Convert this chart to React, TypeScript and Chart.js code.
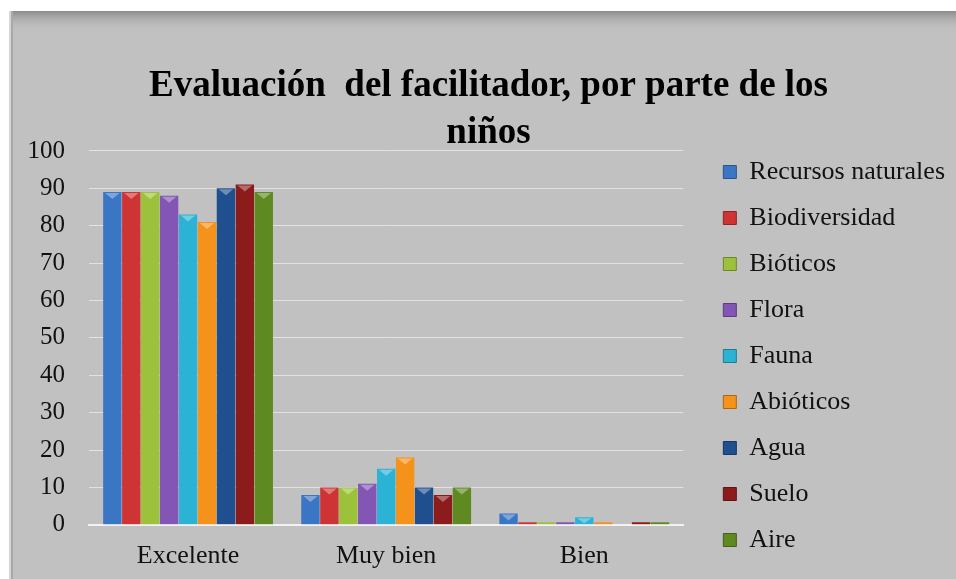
import React, { useEffect, useRef } from "react";
import { Chart, registerables } from "chart.js";

Chart.register(...registerables);

const categories = ["Excelente", "Muy bien", "Bien"];
const seriesNames = [
  "Recursos naturales",
  "Biodiversidad",
  "Bióticos",
  "Flora",
  "Fauna",
  "Abióticos",
  "Agua",
  "Suelo",
  "Aire",
];
const recursosNaturales = [89, 8, 3];
const biodiversidad = [89, 10, 0.7];
const bioticos = [89, 10, 0.7];
const flora = [88, 11, 0.7];
const fauna = [83, 15, 2];
const abioticos = [81, 18, 0.7];
const agua = [90, 10, 0];
const suelo = [91, 8, 0.7];
const aire = [89, 10, 0.7];
const seriesValues = [recursosNaturales, biodiversidad, bioticos, flora, fauna, abioticos, agua, suelo, aire];
const seriesColors = ["#3b76c4", "#cf3434", "#9cc23c", "#8355b5", "#2bb2d4", "#f5921c", "#1f4f8e", "#8c1c1c", "#5f8a22"];
const yTicks = [0, 10, 20, 30, 40, 50, 60, 70, 80, 90, 100];

function shade(hex: string, f: number) {
  const n = parseInt(hex.slice(1), 16);
  let r = (n >> 16) & 255, g = (n >> 8) & 255, b = n & 255;
  if (f >= 0) {
    r = Math.round(r + (255 - r) * f); g = Math.round(g + (255 - g) * f); b = Math.round(b + (255 - b) * f);
  } else {
    r = Math.round(r * (1 + f)); g = Math.round(g * (1 + f)); b = Math.round(b * (1 + f));
  }
  return `rgb(${r},${g},${b})`;
}

const bgPlugin = {
  id: "bgPlugin",
  beforeDraw(chart: any) {
    const { ctx, width, height } = chart;
    ctx.save();
    ctx.fillStyle = "#ffffff";
    ctx.fillRect(0, 0, width, height);
    ctx.fillStyle = "#c1c1c1";
    ctx.fillRect(9, 11, width - 9, height - 11);
    const g = ctx.createLinearGradient(0, 11, 0, 32);
    g.addColorStop(0, "#8c8c8c");
    g.addColorStop(1, "rgba(193,193,193,0)");
    ctx.fillStyle = g;
    ctx.fillRect(9, 11, width - 9, 21);
    ctx.fillStyle = "#d6d6d6";
    ctx.fillRect(9, 11, 2, height - 11);
    ctx.fillStyle = "#a9a9a9";
    ctx.fillRect(11, 11, 2, height - 11);
    ctx.restore();
  },
};

const capPlugin = {
  id: "capPlugin",
  afterDatasetsDraw(chart: any) {
    const { ctx } = chart;
    ctx.save();
    chart.data.datasets.forEach((ds: any, i: number) => {
      const meta = chart.getDatasetMeta(i);
      meta.data.forEach((bar: any, j: number) => {
        const v = ds.data[j];
        if (!v) return;
        const { x, y, base, width } = bar.getProps(["x", "y", "base", "width"], true);
        const h = base - y;
        if (h < 6) return;
        ctx.fillStyle = shade(seriesColors[i], 0.35);
        ctx.beginPath();
        ctx.moveTo(x - width / 2 + 2, y + 1);
        ctx.lineTo(x + width / 2 - 2, y + 1);
        ctx.lineTo(x, y + Math.min(7, h - 1));
        ctx.closePath();
        ctx.fill();
      });
    });
    ctx.restore();
  },
};

export default function App() {
  const ref = useRef<HTMLCanvasElement | null>(null);
  useEffect(() => {
    document.body.style.margin = "0";
    const canvas = ref.current!;
    const chart = new Chart(canvas, {
      type: "bar",
      data: {
        labels: categories,
        datasets: seriesNames.map((name, i) => ({
          label: name,
          data: seriesValues[i],
          backgroundColor: (c: any) => {
            const el = c.element;
            const col = seriesColors[i];
            if (!el || el.width === undefined || !isFinite(el.x)) return col;
            const x0 = el.x - el.width / 2;
            const g = c.chart.ctx.createLinearGradient(x0, 0, x0 + el.width, 0);
            g.addColorStop(0, shade(col, -0.25));
            g.addColorStop(0.3, shade(col, 0.12));
            g.addColorStop(0.7, col);
            g.addColorStop(1, shade(col, -0.35));
            return g;
          },
          borderWidth: 0,
          barPercentage: 0.97,
          categoryPercentage: 0.86,
        })),
      },
      options: {
        responsive: false,
        animation: false,
        layout: { padding: { left: 22, right: 1, top: 0, bottom: -9 } },
        plugins: {
          title: {
            display: true,
            text: ["Evaluación  del facilitador, por parte de los", "niños"],
            color: "#000000",
            font: { family: "Liberation Serif", size: 37, weight: "bold", lineHeight: 1.27 },
            padding: { top: 63, bottom: -6 },
          },
          legend: {
            position: "right",
            align: "start",
            maxWidth: 320,
            title: { display: true, text: "", font: { size: 10, lineHeight: 1.2 }, padding: { top: 127, bottom: 0 } },
            labels: {
              color: "#111111",
              font: { family: "Liberation Serif", size: 26 },
              boxWidth: 13,
              boxHeight: 13,
              padding: 20,
              generateLabels: (chart: any) =>
                chart.data.datasets.map((ds: any, i: number) => ({
                  text: ds.label,
                  fillStyle: seriesColors[i],
                  strokeStyle: shade(seriesColors[i], -0.3),
                  lineWidth: 1,
                  datasetIndex: i,
                  fontColor: "#111111",
                })),
            },
          },
          tooltip: { enabled: false },
        },
        scales: {
          x: {
            grid: { display: false, drawTicks: false },
            border: { display: true, color: "#f2f2f2", width: 2 },
            ticks: { color: "#111111", font: { family: "Liberation Serif", size: 26 }, padding: 16 },
          },
          y: {
            min: 0,
            max: 100,
            afterBuildTicks: (axis: any) => {
              axis.ticks = yTicks.map((v) => ({ value: v }));
            },
            afterFit: (s: any) => {
              s.width = 67;
            },
            grid: { color: "#e2e2e2", lineWidth: 1, drawTicks: false },
            border: { display: false },
            ticks: { color: "#111111", font: { family: "Liberation Serif", size: 25 }, padding: 24 },
          },
          gap: {
            type: "linear",
            position: "right",
            display: true,
            grid: { display: false, drawTicks: false },
            border: { display: false },
            ticks: { display: false },
            afterFit: (s: any) => {
              s.width = 20;
            },
          },
        },
      },
      plugins: [bgPlugin, capPlugin],
    });
    return () => chart.destroy();
  }, []);
  return <canvas ref={ref} width={956} height={579} style={{ display: "block" }} />;
}
